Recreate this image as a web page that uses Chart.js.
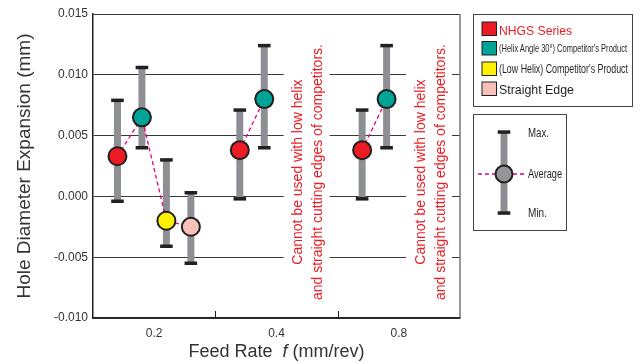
<!DOCTYPE html>
<html><head><meta charset="utf-8">
<script src="https://cdn.jsdelivr.net/npm/chart.js@4"></script>
<style>
html,body{margin:0;padding:0;background:#fff;}
#wrap{position:relative;width:642px;height:363px;overflow:hidden;}
#c{position:absolute;left:0;top:0;}
#leg{position:absolute;left:0;top:0;}
</style></head><body>
<div id="wrap"><canvas id="c" width="642" height="363"></canvas>
<svg id="leg" width="642" height="363" xmlns="http://www.w3.org/2000/svg"></svg></div>
<script>
// ---- data ----
const groupLabels = ['0.2', '0.4', '0.8'];
const seriesNames = ['NHGS Series', "(Helix Angle 30°) Competitor's Product", "(Low Helix) Competitor's Product", 'Straight Edge'];
const nhgsAvg     = [0.0033, 0.0038, 0.0038];
const nhgsMax     = [0.0079, 0.0071, 0.0071];
const nhgsMin     = [-0.0004, -0.0002, -0.0002];
const helix30Avg  = [0.0065, 0.0080, 0.0080];
const helix30Max  = [0.0106, 0.0124, 0.0124];
const helix30Min  = [0.0040, 0.0040, 0.0040];
const lowHelixAvg = [-0.0020, null, null];
const lowHelixMax = [0.0030, null, null];
const lowHelixMin = [-0.0041, null, null];
const straightAvg = [-0.0025, null, null];
const straightMax = [0.0003, null, null];
const straightMin = [-0.0055, null, null];
const yMin = -0.010, yMax = 0.015, yStep = 0.005;
const noteGroups = [1, 2];
const noteLines = ['Cannot be used with low helix', 'and straight cutting edges of competitors.'];
const yTitle = 'Hole Diameter Expansion (mm)';
const xTitleParts = ['Feed Rate  ', 'f', ' (mm/rev)'];
const keyLabels = ['Max.', 'Average', 'Min.'];

// ---- styles ----
const FONT = '"Liberation Sans", Arial, Helvetica, sans-serif';
const RED = '#ed1c24', INK = '#231f20', BAR_GRAY = '#8d8f92', MAGENTA = '#e6007e';
const seriesColors = ['#ed1c24', '#00a496', '#fff200', '#f8c1b8'];
const series = [
  {avg: nhgsAvg, max: nhgsMax, min: nhgsMin},
  {avg: helix30Avg, max: helix30Max, min: helix30Min},
  {avg: lowHelixAvg, max: lowHelixMax, min: lowHelixMin},
  {avg: straightAvg, max: straightMax, min: straightMin}
];
const xOf = (gi, si) => gi * 4 + 0.8 * (si + 1);

const datasets = [];
groupLabels.forEach((g, gi) => {
  const pts = [], cols = [];
  series.forEach((s, si) => {
    if (s.avg[gi] == null) return;
    const x = xOf(gi, si);
    pts.push({x, y: s.avg[gi]});
    cols.push(seriesColors[si]);
    datasets.push({
      order: 1,
      data: [{x, y: s.min[gi]}, {x, y: s.max[gi]}],
      showLine: true, borderColor: BAR_GRAY, borderWidth: 7, borderCapStyle: 'butt',
      pointStyle: 'line', pointRadius: 6.3, pointHoverRadius: 6.3,
      pointBorderWidth: 3.5, pointBorderColor: INK, pointBackgroundColor: INK
    });
  });
  datasets.push({
    order: 0, data: pts, showLine: true,
    borderColor: MAGENTA, borderDash: [4, 3], borderWidth: 1.3,
    pointRadius: 9, pointHoverRadius: 9, pointBorderWidth: 2,
    pointBorderColor: INK, pointBackgroundColor: cols
  });
});

const decor = {
  id: 'decor',
  beforeDatasetsDraw(chart) {
    const {ctx, scales: {x, y}} = chart;
    noteGroups.forEach(gi => {
      const cx = x.getPixelForValue(gi * 4 + 3.05), cy = y.getPixelForValue(0.002);
      ctx.save();
      ctx.fillStyle = '#fff';
      ctx.fillRect(cx - 25, cy - 131, 46, 262);
      ctx.translate(cx, cy);
      ctx.rotate(-Math.PI / 2);
      ctx.font = '14px ' + FONT;
      ctx.fillStyle = RED;
      ctx.textAlign = 'center';
      ctx.textBaseline = 'middle';
      noteLines.forEach((t, i) => ctx.fillText(t, 0, (i - 0.5) * 20));
      ctx.restore();
    });
  },
  afterDraw(chart) {
    const {ctx, chartArea: a, scales: {x}} = chart;
    ctx.save();
    ctx.strokeStyle = '#777';
    ctx.lineWidth = 1.5;
    ctx.beginPath(); ctx.moveTo(a.right, a.top); ctx.lineTo(a.right, a.bottom); ctx.stroke();
    ctx.strokeStyle = INK; ctx.lineWidth = 1;
    [4, 8].forEach(v => {
      const px = Math.round(x.getPixelForValue(v)) + 0.5;
      ctx.beginPath(); ctx.moveTo(px, a.bottom); ctx.lineTo(px, a.bottom - 7); ctx.stroke();
    });
    // x title
    const fonts = ['18px ' + FONT, 'italic 18px ' + FONT, '18px ' + FONT];
    let total = 0;
    const w = xTitleParts.map((t, i) => { ctx.font = fonts[i]; const m = ctx.measureText(t).width; total += m; return m; });
    let px = (a.left + a.right) / 2 - total / 2;
    ctx.fillStyle = '#333'; ctx.textBaseline = 'middle'; ctx.textAlign = 'left';
    xTitleParts.forEach((t, i) => { ctx.font = fonts[i]; ctx.fillText(t, px, 352); px += w[i]; });
    ctx.restore();
  }
};

new Chart(document.getElementById('c'), {
  type: 'scatter',
  data: {datasets},
  plugins: [decor],
  options: {
    responsive: false, animation: false, events: [],
    layout: {padding: {top: 14, right: 182, bottom: 0, left: 0}},
    plugins: {legend: {display: false}, tooltip: {enabled: false}},
    scales: {
      x: {
        type: 'linear', min: 0, max: 12,
        grid: {display: false, drawTicks: false},
        border: {display: true, color: INK, width: 1.5},
        afterBuildTicks: ax => { ax.ticks = groupLabels.map((_, i) => ({value: i * 4 + 2})); },
        ticks: {autoSkip: false, maxRotation: 0, padding: 8, color: '#333', font: {family: FONT, size: 12},
                callback: (v, i) => groupLabels[i]},
        afterFit: s => { s.height = 45; }
      },
      y: {
        min: yMin, max: yMax,
        ticks: {stepSize: yStep, padding: 5, color: '#333', font: {family: FONT, size: 12},
                callback: v => (Math.abs(v) < 1e-9 ? 0 : v).toFixed(3)},
        grid: {color: '#3a3a3a', lineWidth: 1, drawTicks: false},
        border: {color: INK, width: 1.5},
        title: {display: true, text: yTitle, color: '#333', font: {family: FONT, size: 19}, padding: {top: 13.5, bottom: 0}},
        afterFit: s => { s.width = 93; }
      }
    }
  }
});

// ---- legends (SVG, real text) ----
const NS = 'http://www.w3.org/2000/svg';
const svg = document.getElementById('leg');
function el(tag, attrs, text) {
  const e = document.createElementNS(NS, tag);
  for (const k in attrs) e.setAttribute(k, attrs[k]);
  if (text != null) e.textContent = text;
  svg.appendChild(e);
  return e;
}
el('rect', {x: 473.5, y: 14.5, width: 159, height: 92, fill: '#fff', stroke: '#444', 'stroke-width': 1});
const rowTop = [22, 41.5, 62, 82];
const rowBase = [34.5, 52, 73, 94];
const rowSize = [13, 11, 12, 13];
const rowLen = [73, 128, 129, 75];
const rowColor = [RED, INK, INK, INK];
seriesNames.forEach((n, i) => {
  el('rect', {x: 482, y: rowTop[i], width: 14.5, height: 13.5, fill: seriesColors[i], stroke: INK, 'stroke-width': 1});
  el('text', {x: 499, y: rowBase[i], 'font-family': FONT, 'font-size': rowSize[i], fill: rowColor[i],
              textLength: rowLen[i], lengthAdjust: 'spacingAndGlyphs'}, n);
});
el('rect', {x: 473.5, y: 114.5, width: 93, height: 116, fill: '#fff', stroke: '#444', 'stroke-width': 1});
el('line', {x1: 478, y1: 174, x2: 527, y2: 174, stroke: MAGENTA, 'stroke-width': 1.3, 'stroke-dasharray': '4 3'});
el('rect', {x: 500.5, y: 132, width: 7, height: 81, fill: BAR_GRAY});
el('rect', {x: 497.7, y: 130.3, width: 12.6, height: 3.5, fill: INK});
el('rect', {x: 497.7, y: 211.3, width: 12.6, height: 3.5, fill: INK});
el('circle', {cx: 504, cy: 174, r: 8.5, fill: '#939598', stroke: INK, 'stroke-width': 2});
const keyBase = [137, 178, 217];
const keyLen = [21, 34, 19];
keyLabels.forEach((t, i) => {
  el('text', {x: 528, y: keyBase[i], 'font-family': FONT, 'font-size': 12, fill: INK,
              textLength: keyLen[i], lengthAdjust: 'spacingAndGlyphs'}, t);
});
</script>
</body></html>
